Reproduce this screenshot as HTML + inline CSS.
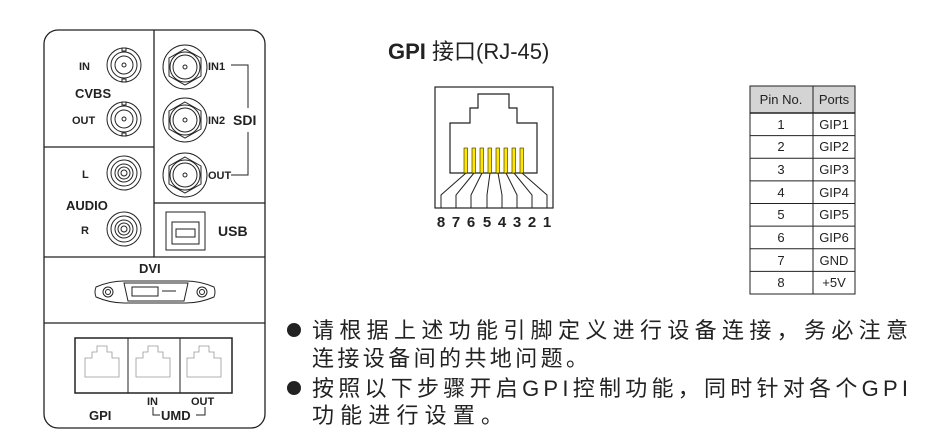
<!DOCTYPE html>
<html><head><meta charset="utf-8"><style>
html,body{margin:0;padding:0;background:#fff;}
svg{display:block;}
svg text{font-family:"Liberation Sans","Noto Sans CJK SC",sans-serif;fill:#222;font-weight:400;}
svg text.b{font-weight:700;}
</style></head><body>
<svg width="931" height="444" viewBox="0 0 931 444" xmlns="http://www.w3.org/2000/svg">
<g stroke="#222" fill="none" stroke-width="1.3">
<rect x="44" y="30" width="221" height="398" rx="14"/>
<line x1="154" y1="30" x2="154" y2="257"/>
<line x1="44" y1="147" x2="154" y2="147"/>
<line x1="154" y1="203" x2="265" y2="203"/>
<line x1="44" y1="257" x2="265" y2="257"/>
<line x1="44" y1="323" x2="265" y2="323"/>
<g stroke-width="1">
<circle cx="124" cy="65" r="17"/><circle cx="124" cy="65" r="13"/><circle cx="124" cy="65" r="9"/><circle cx="124" cy="65" r="2"/>
<rect x="122" y="48" width="4" height="3"/><rect x="122" y="79" width="4" height="3"/>
<circle cx="124" cy="119" r="17"/><circle cx="124" cy="119" r="13"/><circle cx="124" cy="119" r="9"/><circle cx="124" cy="119" r="2"/>
<rect x="122" y="102" width="4" height="3"/><rect x="122" y="133" width="4" height="3"/>
<circle cx="124" cy="173" r="17"/><circle cx="124" cy="173" r="13"/><circle cx="124" cy="173" r="9"/><circle cx="124" cy="173" r="6"/><circle cx="124" cy="173" r="3"/>
<circle cx="124" cy="229" r="17"/><circle cx="124" cy="229" r="13"/><circle cx="124" cy="229" r="9"/><circle cx="124" cy="229" r="6"/><circle cx="124" cy="229" r="3"/>
<circle cx="185" cy="67" r="22"/><polygon points="185,49 201,58 201,76 185,85 169,76 169,58"/><circle cx="185" cy="67" r="15"/><circle cx="185" cy="67" r="12"/><circle cx="185" cy="67" r="2"/>
<circle cx="185" cy="120" r="22"/><polygon points="185,102 201,111 201,129 185,138 169,129 169,111"/><circle cx="185" cy="120" r="15"/><circle cx="185" cy="120" r="12"/><circle cx="185" cy="120" r="2"/>
<circle cx="185" cy="175" r="22"/><polygon points="185,157 201,166 201,184 185,193 169,184 169,166"/><circle cx="185" cy="175" r="15"/><circle cx="185" cy="175" r="12"/><circle cx="185" cy="175" r="2"/>
<polyline points="231,65 248,65 248,108"/>
<polyline points="231,175 248,175 248,132"/>
<rect x="166" y="212" width="39" height="38"/>
<path d="M172 222 L199 222 L199 244 L172 244 Z"/>
<rect x="176" y="229" width="19" height="8"/>
<path d="M124 281 L186 281 Q200 281 214 287 Q216 292 214 297 Q200 303 186 303 L124 303 Q110 303 96 297 Q94 292 96 287 Q110 281 124 281Z"/>
<path d="M124 283 L188 283 L184 301 L128 301 Z"/>
<rect x="132" y="287" width="26" height="9"/>
<line x1="162" y1="291" x2="176" y2="291"/>
<circle cx="108" cy="292" r="5"/><circle cx="108" cy="292" r="2.5"/>
<circle cx="202" cy="292" r="5"/><circle cx="202" cy="292" r="2.5"/>
<rect x="75" y="338" width="157" height="55" stroke-width="1.5"/>
<line x1="128" y1="338" x2="128" y2="393"/><line x1="180" y1="338" x2="180" y2="393"/>
</g>
</g>
<g stroke="#999" stroke-width="0.8" fill="none">
<path d="M85 377 L85 358 L92 358 L92 352 L97 352 L97 346 L107 346 L107 352 L112 352 L112 358 L119 358 L119 377 Z"/>
<path d="M136 377 L136 358 L143 358 L143 352 L148 352 L148 346 L158 346 L158 352 L163 352 L163 358 L170 358 L170 377 Z"/>
<path d="M187 377 L187 358 L194 358 L194 352 L199 352 L199 346 L209 346 L209 352 L214 352 L214 358 L221 358 L221 377 Z"/>
</g>
<polyline points="153,407 153,415 160,415" stroke="#222" fill="none"/>
<polyline points="205,407 205,415 196,415" stroke="#222" fill="none"/>
<g stroke="#222" fill="none" stroke-width="1.2">
<rect x="435" y="87" width="118" height="121"/>
<path d="M450 173 L450 123 L470 123 L470 108 L478 108 L478 94 L509 94 L509 108 L517 108 L517 123 L537 123 L537 173 Z"/>
</g>
<g fill="#ffe600" stroke="#222" stroke-width="0.6">
<rect x="464" y="148" width="3.5" height="25"/><rect x="472" y="148" width="3.5" height="25"/>
<rect x="480" y="148" width="3.5" height="25"/><rect x="488" y="148" width="3.5" height="25"/>
<rect x="496" y="148" width="3.5" height="25"/><rect x="504" y="148" width="3.5" height="25"/>
<rect x="512" y="148" width="3.5" height="25"/><rect x="520" y="148" width="3.5" height="25"/>
</g>
<g stroke="#222" fill="none" stroke-width="1">
<polyline points="466,173 441,195 441,208"/><polyline points="474,173 456,195 456,208"/>
<polyline points="482,173 471,195 471,208"/><polyline points="490,173 487,195 487,208"/>
<polyline points="498,173 502,195 502,208"/><polyline points="506,173 517,195 517,208"/>
<polyline points="514,173 532,195 532,208"/><polyline points="522,173 547,195 547,208"/>
</g>
<g text-anchor="middle">
<text class="b" style="font-size:15px" x="441" y="227">8</text><text class="b" style="font-size:15px" x="456" y="227">7</text><text class="b" style="font-size:15px" x="471" y="227">6</text><text class="b" style="font-size:15px" x="487" y="227">5</text><text class="b" style="font-size:15px" x="502" y="227">4</text><text class="b" style="font-size:15px" x="517" y="227">3</text><text class="b" style="font-size:15px" x="532" y="227">2</text><text class="b" style="font-size:15px" x="547" y="227">1</text>
</g>
<text class="b" style="font-size:11px" x="79" y="70">IN</text>
<text class="b" style="font-size:13px" x="75" y="98">CVBS</text>
<text class="b" style="font-size:11px" x="72" y="124">OUT</text>
<text class="b" style="font-size:11px" x="82" y="178">L</text>
<text class="b" style="font-size:13px" x="66" y="210">AUDIO</text>
<text class="b" style="font-size:11px" x="81" y="234">R</text>
<text class="b" style="font-size:11px" x="208" y="70">IN1</text>
<text class="b" style="font-size:11px" x="208" y="124">IN2</text>
<text class="b" style="font-size:14px" x="233" y="125">SDI</text>
<text class="b" style="font-size:11px" x="208" y="179">OUT</text>
<text class="b" style="font-size:14px" x="218" y="236">USB</text>
<text class="b" style="font-size:13px" x="139" y="273">DVI</text>
<text class="b" style="font-size:13px" x="89" y="420">GPI</text>
<text class="b" style="font-size:11px" x="147" y="405">IN</text>
<text class="b" style="font-size:11px" x="191" y="405">OUT</text>
<text class="b" style="font-size:13px" x="161" y="420">UMD</text>
<text style="font-size:22px" x="388" y="59"><tspan style="font-weight:700">GPI</tspan> 接口(RJ-45)</text>
<rect x="750" y="86" width="105" height="27" fill="#d4d4d4"/>
<g stroke="#222" fill="none" stroke-width="1">
<rect x="750" y="86" width="105" height="208"/>
<line x1="813" y1="86" x2="813" y2="294"/>
<line x1="750" y1="113" x2="855" y2="113" stroke-width="1.5"/>
<line x1="750" y1="135.6" x2="855" y2="135.6"/><line x1="750" y1="158.3" x2="855" y2="158.3"/>
<line x1="750" y1="180.9" x2="855" y2="180.9"/><line x1="750" y1="203.5" x2="855" y2="203.5"/>
<line x1="750" y1="226.1" x2="855" y2="226.1"/><line x1="750" y1="248.8" x2="855" y2="248.8"/>
<line x1="750" y1="271.4" x2="855" y2="271.4"/>
</g>
<g text-anchor="middle">
<text style="font-size:13px" x="781" y="104">Pin No.</text><text style="font-size:13px" x="834" y="104">Ports</text>
<text style="font-size:13px" x="781" y="129">1</text><text style="font-size:13px" x="834" y="129">GIP1</text>
<text style="font-size:13px" x="781" y="151">2</text><text style="font-size:13px" x="834" y="151">GIP2</text>
<text style="font-size:13px" x="781" y="174">3</text><text style="font-size:13px" x="834" y="174">GIP3</text>
<text style="font-size:13px" x="781" y="197">4</text><text style="font-size:13px" x="834" y="197">GIP4</text>
<text style="font-size:13px" x="781" y="219">5</text><text style="font-size:13px" x="834" y="219">GIP5</text>
<text style="font-size:13px" x="781" y="242">6</text><text style="font-size:13px" x="834" y="242">GIP6</text>
<text style="font-size:13px" x="781" y="265">7</text><text style="font-size:13px" x="834" y="265">GND</text>
<text style="font-size:13px" x="781" y="287">8</text><text style="font-size:13px" x="834" y="287">+5V</text>
</g>
<circle cx="294" cy="330" r="7" fill="#222"/>
<circle cx="294" cy="388" r="7" fill="#222"/>
<text style="font-size:22px" x="312" y="338" textLength="596" lengthAdjust="spacing">请根据上述功能引脚定义进行设备连接，务必注意</text>
<text style="font-size:22px" x="312" y="366" textLength="276" lengthAdjust="spacing">连接设备间的共地问题。</text>
<text style="font-size:22px" x="312" y="396" textLength="596" lengthAdjust="spacing">按照以下步骤开启GPI控制功能，同时针对各个GPI</text>
<text style="font-size:22px" x="312" y="423" textLength="191" lengthAdjust="spacing">功能进行设置。</text>
</svg>
</body></html>
